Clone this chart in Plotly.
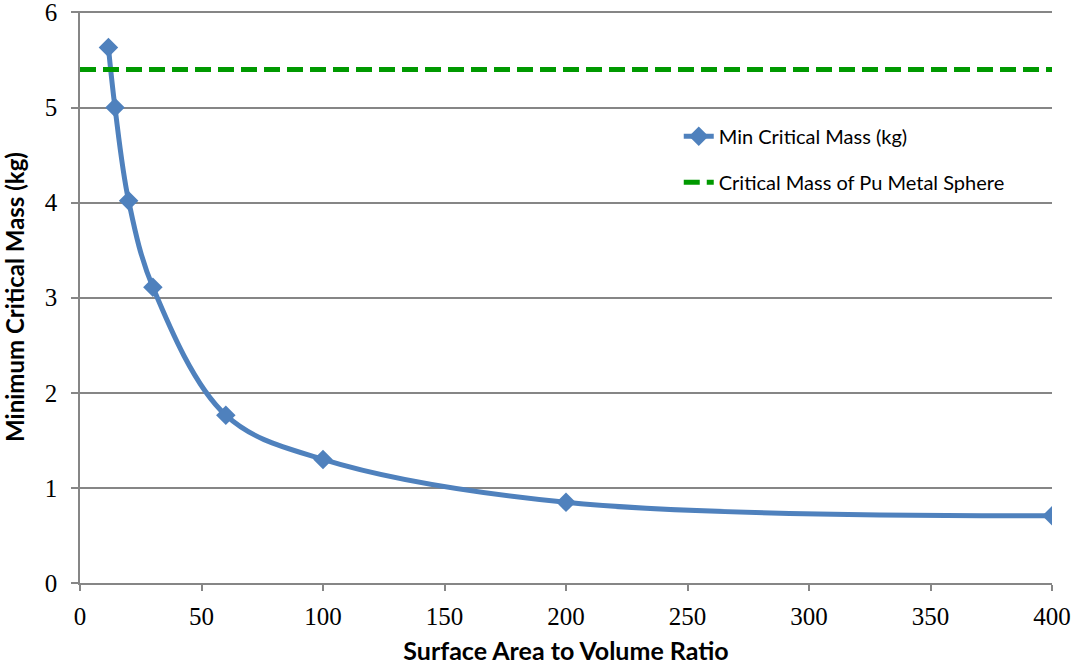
import plotly.graph_objects as go

# Data
ratio = [11.7, 14.4, 20, 30, 60, 100, 200, 400]
min_mass = [5.63, 5.0, 4.02, 3.11, 1.765, 1.30, 0.848, 0.707]
sphere_x = [0, 400]
sphere_mass = [5.4, 5.4]
x_ticks = [0, 50, 100, 150, 200, 250, 300, 350, 400]
y_ticks = [0, 1, 2, 3, 4, 5, 6]

blue = "#4F81BD"
green = "#009900"
grid = "#868686"
sans = "Lato, Carlito, Calibri, sans-serif"
serif = "Liberation Serif, Times New Roman, serif"

fig = go.Figure()
fig.add_trace(go.Scatter(
    x=ratio, y=min_mass, mode="lines+markers",
    name="Min Critical Mass (kg)",
    line=dict(color=blue, width=5, shape="spline", smoothing=1.0),
    marker=dict(symbol="diamond", size=15, color=blue),
    legendgroup="a",
))
fig.add_trace(go.Scatter(
    x=sphere_x, y=sphere_mass, mode="lines",
    name="Critical Mass of Pu Metal Sphere",
    line=dict(color=green, width=5, dash="16px,7px"),
    legendgroup="b",
))

fig.update_layout(
    width=1078, height=665,
    margin=dict(l=80, r=26, t=11, b=82),
    paper_bgcolor="white", plot_bgcolor="white",
    showlegend=True,
    legend=dict(
        x=0.616, y=0.815, xanchor="left", yanchor="top",
        font=dict(family=sans, size=20, color="black"),
        traceorder="grouped", tracegroupgap=17,
        bgcolor="rgba(0,0,0,0)",
    ),
    xaxis=dict(
        range=[0, 400], tickvals=x_ticks, ticktext=[str(v) for v in x_ticks],
        showgrid=False, zeroline=False, automargin=False,
        showline=True, linecolor=grid, linewidth=1.5,
        ticks="outside", ticklen=6, tickcolor=grid, tickwidth=1.5,
        ticklabelstandoff=4, ticklabeloverflow="allow",
        tickfont=dict(family=serif, size=25, color="black"),
        title=dict(text="<b>Surface Area to Volume Ratio</b>",
                   font=dict(family=sans, size=25, color="black"),
                   standoff=14),
    ),
    yaxis=dict(
        range=[0, 6.015], tickvals=y_ticks, ticktext=[str(v) for v in y_ticks],
        showgrid=True, gridcolor=grid, gridwidth=1.5,
        zeroline=False, automargin=False,
        showline=True, linecolor=grid, linewidth=1.5,
        ticks="outside", ticklen=7, tickcolor=grid, tickwidth=1.5,
        ticklabelstandoff=9, ticklabeloverflow="allow",
        tickfont=dict(family=serif, size=25, color="black"),
        title=dict(text="<b>Minimum Critical Mass (kg)</b>",
                   font=dict(family=sans, size=24, color="black"),
                   standoff=14),
    ),
)

fig.write_html("out.html")
